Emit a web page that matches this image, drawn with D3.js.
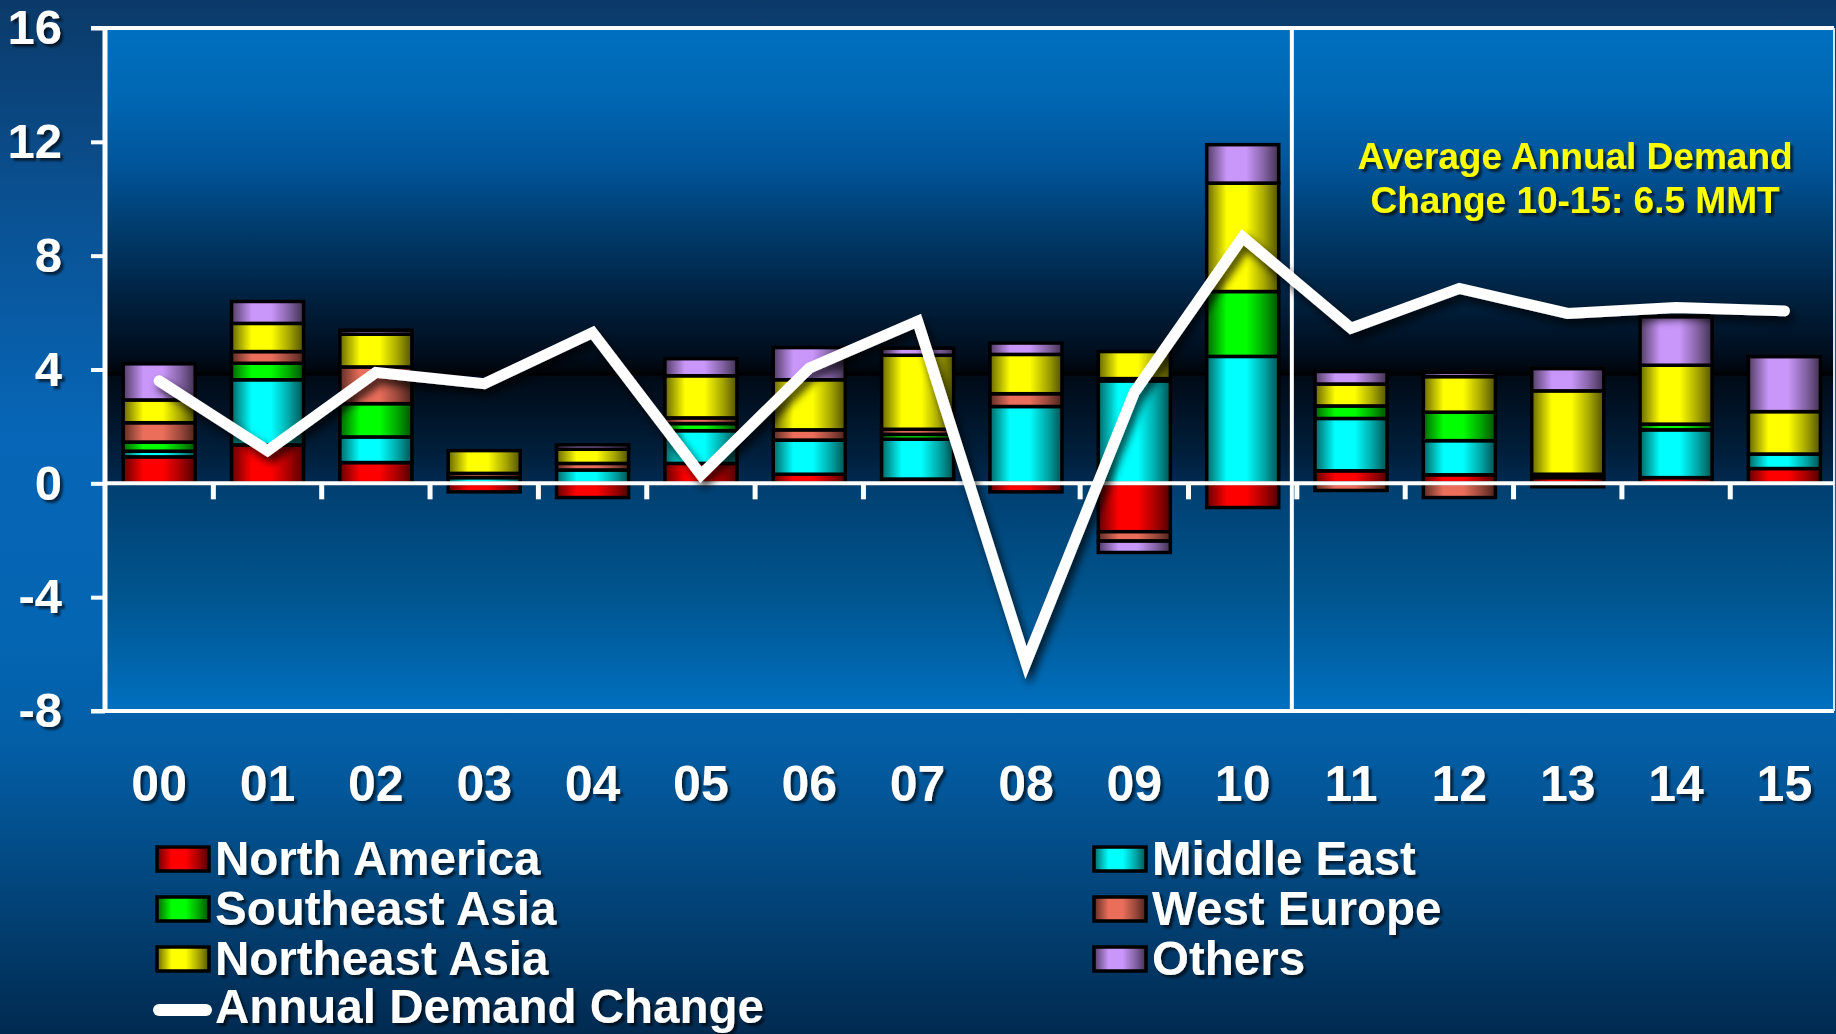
<!DOCTYPE html>
<html>
<head>
<meta charset="utf-8">
<script src="https://cdn.jsdelivr.net/npm/d3@7/dist/d3.min.js"></script>
<style>
  html, body { margin: 0; padding: 0; overflow: hidden; background: #003a6a; }
  svg { display: block; }
  text { font-family: "Liberation Sans", Arial, Helvetica, sans-serif; font-weight: bold; }
</style>
</head>
<body>
<svg id="chart" width="1836" height="1034"></svg>
<script>
// Year labels (2000-2015)
const categories = ["00","01","02","03","04","05","06","07","08","09","10","11","12","13","14","15"];

// Regional contributions to annual demand change (MMT)
const northAmerica  = [0.93, 1.35, 0.73, -0.30, -0.50, 0.70, 0.32, 0.15, -0.30, -1.70, -0.85, 0.44, 0.30, 0.20, 0.20, 0.52];
const middleEast    = [0.20, 2.29, 0.90, 0.20, 0.47, 1.15, 1.20, 1.40, 2.70, 3.60, 4.46, 1.84, 1.20, 0.00, 1.68, 0.51];
const southeastAsia = [0.32, 0.58, 1.17, 0.00, 0.00, 0.25, 0.00, 0.17, 0.00, 0.08, 2.28, 0.44, 1.00, 0.12, 0.20, 0.00];
const westEurope    = [0.68, 0.41, 1.29, 0.15, 0.23, 0.20, 0.36, 0.18, 0.45, -0.33, 0.00, -0.25, -0.50, -0.12, 0.00, 0.00];
const northeastAsia = [0.80, 0.99, 1.15, 0.80, 0.50, 1.48, 1.76, 2.60, 1.38, 0.95, 3.81, 0.77, 1.25, 2.93, 2.07, 1.49];
const others        = [1.27, 0.77, 0.14, 0.00, 0.15, 0.60, 1.13, 0.25, 0.40, -0.40, 1.35, 0.44, 0.15, 0.78, 1.70, 1.93];

// Total annual demand change (MMT)
const annualChange  = [3.6, 1.15, 3.9, 3.5, 5.3, 0.3, 4.05, 5.7, -6.3, 3.2, 8.65, 5.45, 6.85, 5.97, 6.18, 6.06];

// Axis ticks
const yTicks = [-8, -4, 0, 4, 8, 12, 16];

const seriesNames = ["North America", "Middle East", "Southeast Asia", "West Europe", "Northeast Asia", "Others"];
const seriesValues = [northAmerica, middleEast, southeastAsia, westEurope, northeastAsia, others];
const seriesColors = ["#ff0000", "#00ffff", "#00ff00", "#ea6e5a", "#ffff00", "#c996fa"];

const averageNote = ["Average Annual Demand", "Change 10-15: 6.5 MMT"];

// ---------------------------------------------------------------
const W = 1836, H = 1034;
const P = { left: 105, right: 1834, top: 28, bottom: 711 };
const step = 108.35;

const svg = d3.select("#chart");
const defs = svg.append("defs");

// Page background
const bg = defs.append("linearGradient").attr("id", "pageBg").attr("x1", 0).attr("y1", 0).attr("x2", 0).attr("y2", 1);
[[0, "#0b3a69"], [0.18, "#0a4f8f"], [0.42, "#0766b7"], [0.62, "#0465b2"], [0.72, "#035ea6"], [0.85, "#02477e"], [1, "#012a50"]]
  .forEach(([o, c]) => bg.append("stop").attr("offset", o).attr("stop-color", c));

// Plot background (above and below the zero line)
const upper = defs.append("linearGradient").attr("id", "plotUpper").attr("x1", 0).attr("x2", 0)
  .attr("gradientUnits", "userSpaceOnUse").attr("y1", P.top).attr("y2", 483);
[[0, "#0070c0"], [0.15, "#0067b3"], [0.3, "#00559a"], [0.45, "#003a6a"], [0.6, "#00203d"], [0.72, "#000d1c"], [0.76, "#000408"],
 [0.765, "#000a16"], [0.85, "#001428"], [0.93, "#001e3a"], [1, "#002a50"]]
  .forEach(([o, c]) => upper.append("stop").attr("offset", o).attr("stop-color", c));
const lower = defs.append("linearGradient").attr("id", "plotLower").attr("x1", 0).attr("x2", 0)
  .attr("gradientUnits", "userSpaceOnUse").attr("y1", 483).attr("y2", P.bottom);
[[0, "#003f70"], [0.5, "#00558f"], [1, "#0070c0"]]
  .forEach(([o, c]) => lower.append("stop").attr("offset", o).attr("stop-color", c));

// Cylinder-like horizontal shading for each series
seriesColors.forEach((c, i) => {
  const g = defs.append("linearGradient").attr("id", "shade" + i).attr("x1", 0).attr("y1", 0).attr("x2", 1).attr("y2", 0);
  const base = d3.color(c);
  [[0, base.darker(2.6)], [0.28, base], [0.55, base], [0.8, base.darker(1.2)], [1, base.darker(3.2)]]
    .forEach(([o, col]) => g.append("stop").attr("offset", o).attr("stop-color", col.formatHex()));
});

// Shadows
const ts = defs.append("filter").attr("id", "textShadow").attr("x", "-10%").attr("y", "-20%").attr("width", "130%").attr("height", "150%");
ts.append("feDropShadow").attr("dx", 3).attr("dy", 3).attr("stdDeviation", 1.3).attr("flood-color", "#000").attr("flood-opacity", 0.6);
const ls = defs.append("filter").attr("id", "lineShadow").attr("x", "-10%").attr("y", "-10%").attr("width", "120%").attr("height", "130%");
ls.append("feDropShadow").attr("dx", 4).attr("dy", 6).attr("stdDeviation", 4).attr("flood-color", "#000").attr("flood-opacity", 0.75);

svg.append("rect").attr("width", W).attr("height", H).attr("fill", "url(#pageBg)");

// Scales
const x = d3.scaleBand().domain(categories).range([P.left, P.left + step * categories.length]).padding(0);
const y = d3.scaleLinear().domain([d3.min(yTicks), d3.max(yTicks)]).range([P.bottom, P.top]);
const y0 = y(0);

// Plot area fill
svg.append("rect").attr("x", P.left).attr("y", P.top).attr("width", P.right - P.left).attr("height", y0 - P.top).attr("fill", "url(#plotUpper)");
svg.append("rect").attr("x", P.left).attr("y", y0).attr("width", P.right - P.left).attr("height", P.bottom - y0).attr("fill", "url(#plotLower)");
svg.append("rect").attr("x", P.left).attr("y", P.top + 0.76 * (y0 - P.top) - 1.5).attr("width", P.right - P.left).attr("height", 3)
  .attr("fill", "#000").attr("opacity", 0.85);

// Stacked bars
const table = categories.map((c, i) => {
  const row = { cat: c };
  seriesNames.forEach((n, k) => row[n] = seriesValues[k][i]);
  return row;
});
const stacked = d3.stack().keys(seriesNames).offset(d3.stackOffsetDiverging)(table);
const barW = x.bandwidth() * 0.665;

const barLayer = svg.append("g");
stacked.forEach((s, k) => {
  barLayer.append("g")
    .selectAll("rect")
    .data(s.filter(d => Math.abs(d[1] - d[0]) > 1e-9))
    .join("rect")
    .attr("x", d => x(d.data.cat) + (x.bandwidth() - barW) / 2)
    .attr("y", d => y(Math.max(d[0], d[1])))
    .attr("width", barW)
    .attr("height", d => Math.abs(y(d[0]) - y(d[1])))
    .attr("fill", "url(#shade" + k + ")")
    .attr("stroke", "#000")
    .attr("stroke-width", 3.5);
});

// Frame lines
const white = "#ffffff";
svg.append("line").attr("x1", P.left - 14).attr("x2", P.right).attr("y1", P.top).attr("y2", P.top).attr("stroke", white).attr("stroke-width", 4);
svg.append("line").attr("x1", P.left - 14).attr("x2", P.right).attr("y1", P.bottom).attr("y2", P.bottom).attr("stroke", white).attr("stroke-width", 4);
svg.append("line").attr("x1", P.right).attr("x2", P.right).attr("y1", P.top).attr("y2", P.bottom).attr("stroke", "#d8e6f4").attr("stroke-width", 2);
svg.append("line").attr("x1", P.left).attr("x2", P.left).attr("y1", P.top - 2).attr("y2", P.bottom + 2).attr("stroke", white).attr("stroke-width", 5);

// Zero line and category separators
svg.append("line").attr("x1", P.left).attr("x2", P.right).attr("y1", y0).attr("y2", y0).attr("stroke", white).attr("stroke-width", 4);
svg.append("g").selectAll("line")
  .data(categories.slice(1))
  .join("line")
  .attr("x1", d => x(d)).attr("x2", d => x(d))
  .attr("y1", y0).attr("y2", y0 + 16)
  .attr("stroke", white).attr("stroke-width", 5);

// Divider between actuals and forecast
const divX = x("11") - 5;
svg.append("line").attr("x1", divX).attr("x2", divX).attr("y1", P.top).attr("y2", P.bottom).attr("stroke", white).attr("stroke-width", 4);

// Y axis
const yAxis = svg.append("g").attr("transform", `translate(${P.left},0)`)
  .call(d3.axisLeft(y).tickValues(yTicks).tickSize(14).tickPadding(29).tickFormat(d => String(d)));
yAxis.select(".domain").remove();
yAxis.selectAll(".tick line").attr("stroke", white).attr("stroke-width", 4);
yAxis.selectAll(".tick text").attr("fill", white).attr("font-size", 49).attr("filter", "url(#textShadow)")
  .style("font-family", '"Liberation Sans", Arial, sans-serif').style("font-weight", "bold");

// X axis labels
const xAxis = svg.append("g").attr("transform", "translate(0,765)")
  .call(d3.axisBottom(x).tickSize(0).tickPadding(0));
xAxis.select(".domain").remove();
xAxis.selectAll(".tick text").attr("fill", white).attr("font-size", 50).attr("filter", "url(#textShadow)")
  .style("font-family", '"Liberation Sans", Arial, sans-serif').style("font-weight", "bold");

// Annual demand change line
const line = d3.line().x((d, i) => x(categories[i]) + x.bandwidth() / 2).y(d => y(d));
svg.append("path")
  .datum(annualChange)
  .attr("d", line)
  .attr("fill", "none")
  .attr("stroke", white)
  .attr("stroke-width", 11)
  .attr("stroke-linejoin", "miter")
  .attr("stroke-miterlimit", 10)
  .attr("stroke-linecap", "round")
  .attr("filter", "url(#lineShadow)");

// Average note
svg.append("g").selectAll("text")
  .data(averageNote)
  .join("text")
  .attr("x", 1575)
  .attr("y", (d, i) => 169 + i * 44)
  .attr("text-anchor", "middle")
  .attr("font-size", 37)
  .attr("fill", "#ffff00")
  .attr("filter", "url(#textShadow)")
  .text(d => d);

// Legend
const legendPos = [
  { x: 157, row: 0 }, { x: 1094, row: 0 },
  { x: 157, row: 1 }, { x: 1094, row: 1 },
  { x: 157, row: 2 }, { x: 1094, row: 2 }
];
const legend = svg.append("g");
seriesNames.forEach((name, k) => {
  const p = legendPos[k];
  const cy = 859 + p.row * 50;
  legend.append("rect")
    .attr("x", p.x).attr("y", cy - 12).attr("width", 52).attr("height", 24)
    .attr("fill", "url(#shade" + k + ")").attr("stroke", "#000").attr("stroke-width", 3.5);
  legend.append("text")
    .attr("x", p.x + 58).attr("y", cy + 16)
    .attr("font-size", 47.5).attr("fill", white).attr("filter", "url(#textShadow)")
    .text(name);
});
legend.append("line")
  .attr("x1", 159).attr("x2", 206).attr("y1", 1010).attr("y2", 1010)
  .attr("stroke", white).attr("stroke-width", 12).attr("stroke-linecap", "round");
legend.append("text")
  .attr("x", 215).attr("y", 1023)
  .attr("font-size", 47.5).attr("fill", white).attr("filter", "url(#textShadow)")
  .text("Annual Demand Change");
</script>
</body>
</html>
